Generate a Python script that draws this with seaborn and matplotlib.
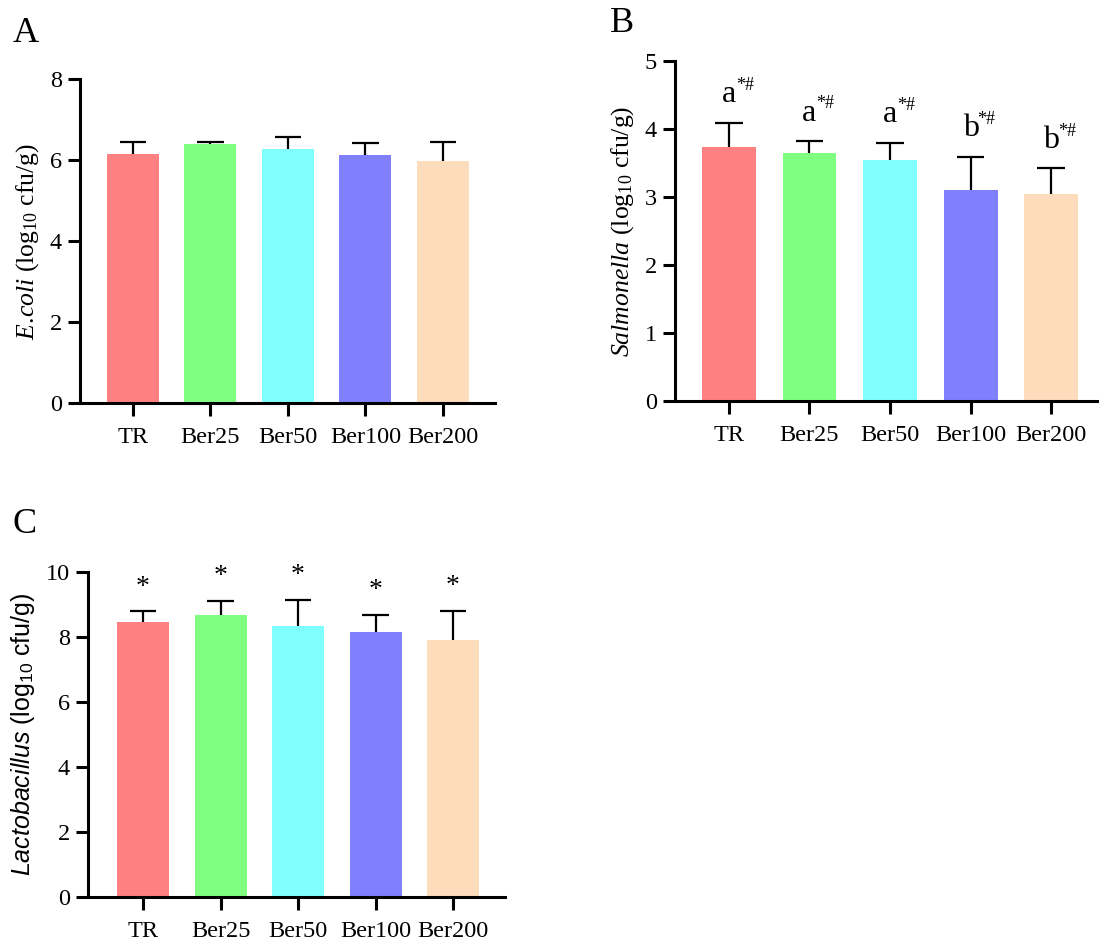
import numpy as np
import pandas as pd
import seaborn as sns
import matplotlib
matplotlib.use("Agg")
import matplotlib.pyplot as plt

groups = ["TR", "Ber25", "Ber50", "Ber100", "Ber200"]
colors = ["#FF8080", "#80FF80", "#80FFFF", "#8080FF", "#FDDCBC"]

ecoli_mean = [6.14, 6.39, 6.28, 6.12, 5.98]
ecoli_err = [0.31, 0.06, 0.30, 0.31, 0.47]

salm_mean = [3.74, 3.65, 3.54, 3.11, 3.04]
salm_err = [0.35, 0.17, 0.26, 0.48, 0.38]
salm_letters = ["a", "a", "a", "b", "b"]

lacto_mean = [8.46, 8.69, 8.34, 8.16, 7.92]
lacto_err = [0.33, 0.42, 0.80, 0.52, 0.89]

sns.set_style("ticks")
plt.rcParams["font.family"] = ["Liberation Serif", "DejaVu Serif"]
plt.rcParams["text.color"] = "black"
plt.rcParams["axes.labelcolor"] = "black"
plt.rcParams["axes.edgecolor"] = "black"
plt.rcParams["xtick.color"] = "black"
plt.rcParams["ytick.color"] = "black"
plt.rcParams["mathtext.fontset"] = "custom"
plt.rcParams["mathtext.rm"] = "Liberation Serif"
plt.rcParams["mathtext.it"] = "Liberation Serif:italic"
plt.rcParams["mathtext.sf"] = "Liberation Sans"
plt.rcParams["mathtext.bf"] = "Liberation Sans:italic"

W, H = 1099, 940
fig = plt.figure(figsize=(W / 100, H / 100), dpi=100)


def px_axes(left, right, top, bottom):
    return fig.add_axes([left / W, 1 - bottom / H, (right - left) / W, (bottom - top) / H])


def draw(ax, means, errs, ylim, yticks, xlim):
    df = pd.DataFrame({"group": groups, "value": means})
    sns.barplot(data=df, x="group", y="value", hue="group", palette=colors,
                width=0.67, saturation=1, legend=False, ax=ax, linewidth=0, errorbar=None)
    xs = np.arange(len(groups))
    tops = np.array(means) + np.array(errs)
    ax.vlines(xs, means, tops, colors="black", linewidth=1.6, zorder=3)
    ax.hlines(tops, xs - 0.17, xs + 0.17, colors="black", linewidth=1.6, zorder=3)
    ax.set_ylim(*ylim)
    ax.set_xlim(*xlim)
    ax.set_yticks(yticks)
    ax.set_xlabel("")
    for s in ["top", "right"]:
        ax.spines[s].set_visible(False)
    for s in ["left", "bottom"]:
        ax.spines[s].set_linewidth(2.2)
        ax.spines[s].set_color("black")
    ax.tick_params(axis="both", width=2.2, length=9, labelsize=17.5, pad=4, colors="black")
    ax.tick_params(axis="x", pad=8)
    for lab in ax.get_xticklabels() + ax.get_yticklabels():
        lab.set_fontfamily("Liberation Serif")


# Panel A
axA = px_axes(80, 495, 79, 403)
draw(axA, ecoli_mean, ecoli_err, (0, 8), [0, 2, 4, 6, 8], (-0.68, 4.67))
axA.set_ylabel(r"$\mathit{E.\!coli}$ (log$_{10}$ cfu/g)", fontsize=18.5,
               fontfamily="Liberation Serif", labelpad=6)

# Panel B
axB = px_axes(675, 1097, 61, 401)
draw(axB, salm_mean, salm_err, (0, 5), [0, 1, 2, 3, 4, 5], (-0.67, 4.57))
axB.set_ylabel(r"$\mathit{Salmonella}$ (log$_{10}$ cfu/g)", fontsize=18.5,
               fontfamily="Liberation Serif", labelpad=6)
for i, (m, e, l) in enumerate(zip(salm_mean, salm_err, salm_letters)):
    y = m + e + 0.30
    axB.text(i, y, l, ha="center", va="baseline", fontsize=23, fontfamily="Liberation Serif")
    axB.annotate("*#", xy=(i, y), xytext=(5, 9), textcoords="offset points",
                 ha="left", va="baseline", fontsize=13, fontfamily="Liberation Serif")

# Panel C
axC = px_axes(88, 505, 572, 897)
draw(axC, lacto_mean, lacto_err, (0, 10), [0, 2, 4, 6, 8, 10], (-0.71, 4.67))
axC.set_ylabel(r"$\mathbf{Lactobacillus}$ (log$_{\mathsf{10}}$ cfu/g)", fontsize=18,
               fontfamily="Liberation Sans", labelpad=6)
for i, (m, e) in enumerate(zip(lacto_mean, lacto_err)):
    axC.text(i, m + e + 0.54, "*", ha="center", va="baseline", fontsize=20,
             fontfamily="Liberation Serif")

# Panel letters
fig.text(13 / W, 1 - 42 / H, "A", fontsize=26, fontfamily="Liberation Serif", va="baseline")
fig.text(610 / W, 1 - 32 / H, "B", fontsize=26, fontfamily="Liberation Serif", va="baseline")
fig.text(13 / W, 1 - 533 / H, "C", fontsize=26, fontfamily="Liberation Serif", va="baseline")

fig.savefig("out.png", dpi=100)
